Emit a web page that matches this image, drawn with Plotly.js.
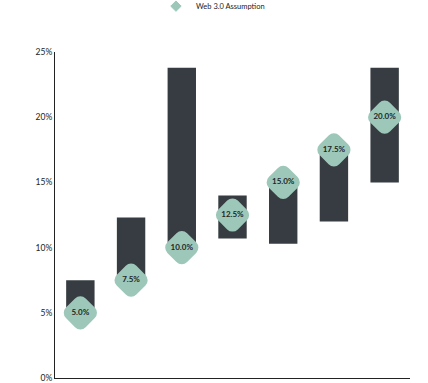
<!DOCTYPE html>
<html>
<head>
<meta charset="utf-8">
<script src="https://cdn.plot.ly/plotly-3.0.1.min.js"></script>
<style>
html,body{margin:0;padding:0;background:#fff;}
#chart{width:428px;height:383px;}
.scatterlayer .point{stroke-linejoin:round;}
.legend .scatterpts path{stroke-linejoin:round;}
</style>
</head>
<body>
<div id="chart"></div>
<script>
const categories = ["A","B","C","D","E","F","G"];
const rangeLow  = [5.0, 7.5, 10.0, 10.7, 10.3, 12.0, 15.0];
const rangeHigh = [7.5, 12.3, 23.8, 14.0, 15.0, 17.5, 23.8];
const assumption = [5.0, 7.5, 10.0, 12.5, 15.0, 17.5, 20.0];
const assumptionLabels = assumption.map(v => v.toFixed(1) + "%");
const yTickVals = [0,5,10,15,20,25];
const yTickText = ["0%","5%","10%","15%","20%","25%"];
const seriesName = "Web 3.0 Assumption";

const font = "Lato, 'Open Sans', sans-serif";
const teal = "#9dc8b9";

const bars = {
  type: "bar",
  x: categories,
  y: rangeHigh.map((h,i) => h - rangeLow[i]),
  base: rangeLow,
  width: 0.56,
  marker: {color: "#363c41", line: {width: 0}},
  showlegend: false,
  hoverinfo: "skip"
};
const pts = {
  type: "scatter",
  mode: "markers+text",
  name: seriesName,
  x: categories,
  y: assumption,
  text: assumptionLabels,
  textposition: "middle center",
  textfont: {family: font, size: 8, color: "#1c2626", weight: 700},
  marker: {symbol: "diamond", size: 14, color: teal, line: {color: teal, width: 15}},
  cliponaxis: false,
  showlegend: false
};
const legendEntry = {
  type: "scatter",
  mode: "markers",
  name: seriesName,
  x: [null],
  y: [null],
  marker: {symbol: "diamond", size: 8, color: teal, line: {color: teal, width: 1}},
  showlegend: true
};

const layout = {
  width: 428, height: 383,
  margin: {l: 55, r: 18, t: 52, b: 5, autoexpand: false},
  paper_bgcolor: "#fff", plot_bgcolor: "#fff",
  font: {family: font, size: 8.5, color: "#222"},
  showlegend: true,
  legend: {orientation: "h", x: 0.445, xanchor: "center", yref: "container", y: 0.984, yanchor: "middle",
           font: {family: font, size: 7.5, color: "#222"}},
  xaxis: {range: [-0.5, 6.5], showticklabels: false, showgrid: false, zeroline: false,
          showline: true, linecolor: "#222", linewidth: 1, ticks: ""},
  yaxis: {range: [0, 25], tickvals: yTickVals, ticktext: yTickText, showgrid: false,
          zeroline: false, showline: true, linecolor: "#222", linewidth: 1, ticks: "",
          ticklen: 0, tickfont: {family: font, size: 8.5, color: "#222"}}
};

Plotly.newPlot("chart", [bars, pts, legendEntry], layout, {displayModeBar: false, staticPlot: true});
</script>
</body>
</html>
